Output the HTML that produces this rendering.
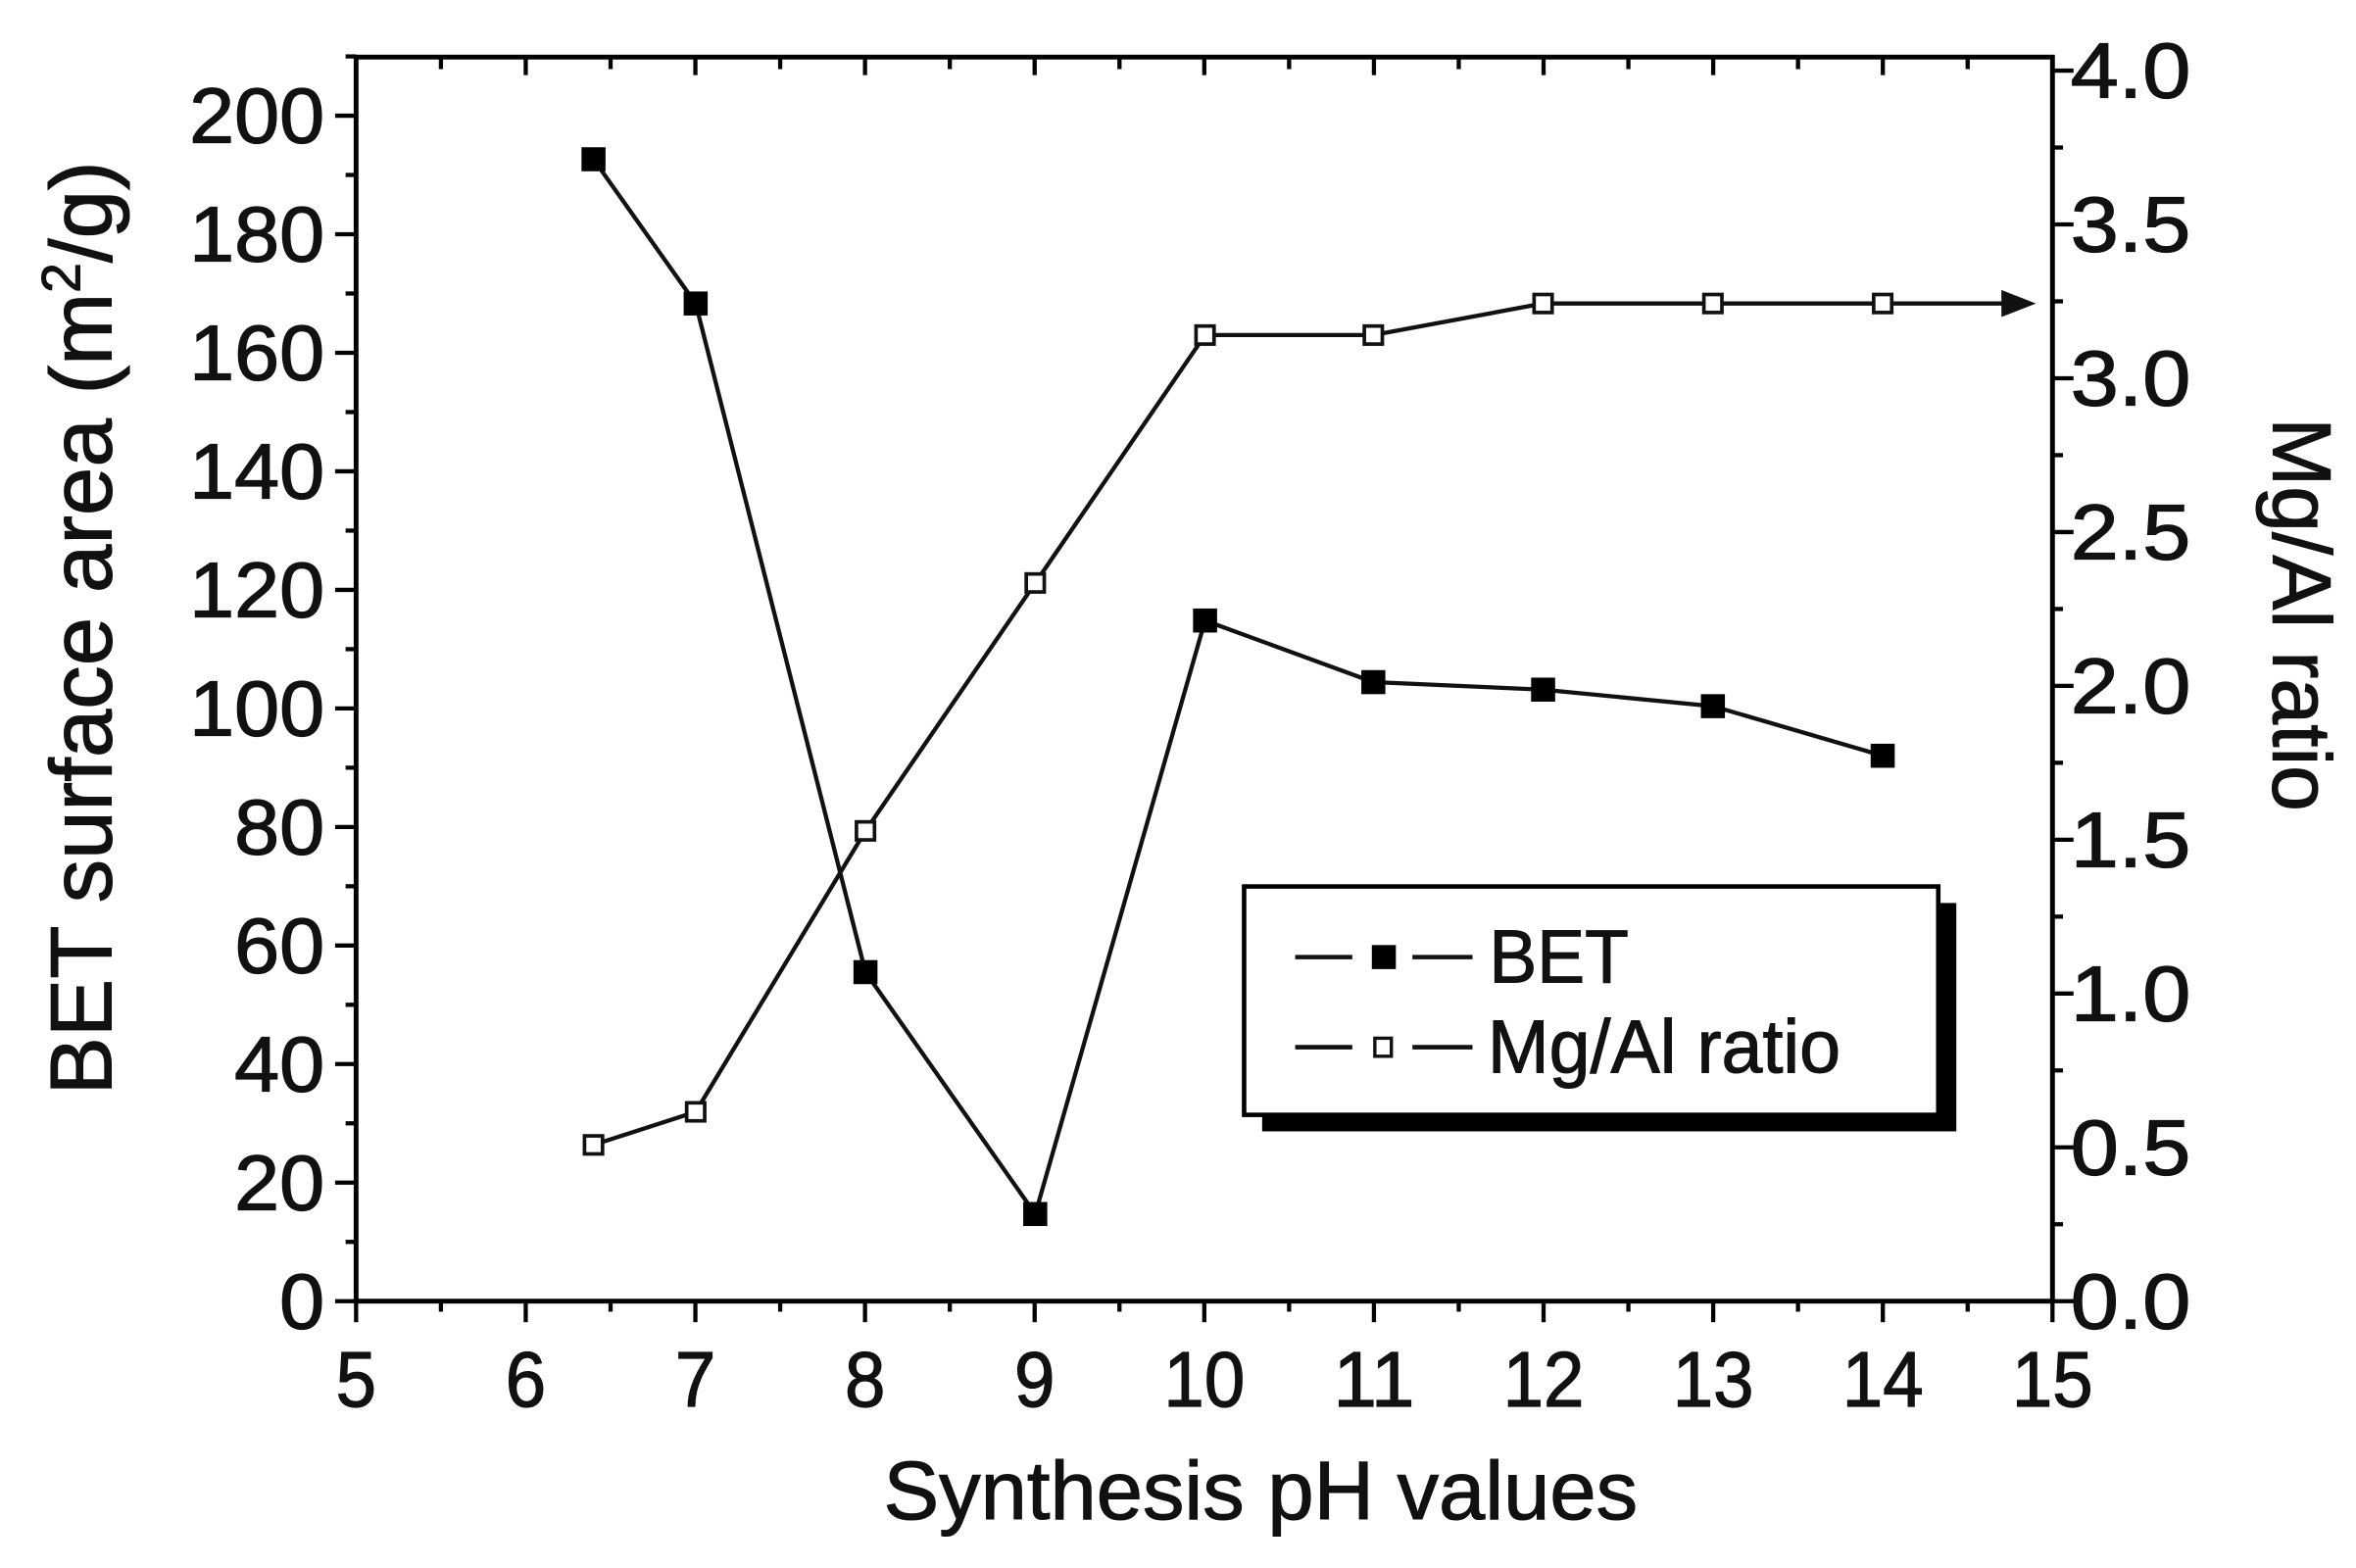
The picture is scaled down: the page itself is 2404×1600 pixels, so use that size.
<!DOCTYPE html>
<html><head><meta charset="utf-8"><style>html,body{margin:0;padding:0;background:#fff}svg{display:block}</style></head>
<body>
<svg width="2404" height="1600" viewBox="0 0 1568 1043.6" preserveAspectRatio="none" xmlns="http://www.w3.org/2000/svg" font-family="Liberation Sans, Arial, sans-serif">
<rect x="0" y="0" width="1568" height="1044" fill="#fff"/>
<g stroke="#000" stroke-width="3.2" fill="none">
<rect x="237" y="38" width="1129" height="828"/>
</g>
<g stroke="#000" stroke-width="2.8" id="ticks"></g>
<g id="labels" font-size="52" fill="#111" stroke="#111" stroke-width="0.8"></g>
<polyline fill="none" stroke="#111" stroke-width="2.8" points="395,106 463,202 576,647 689,808 802,413 914,454 1027,459 1140,470 1253,503"/>
<polyline fill="none" stroke="#111" stroke-width="2.8" points="395,762 463,740 576,553 689,388 802,223 914,223 1027,202 1140,202 1253,202 1340,202"/>
<polygon points="1355,202 1332,193 1332,211" fill="#111"/>
<g fill="#000">
<rect x="387" y="98" width="16" height="16"/><rect x="455" y="194" width="16" height="16"/><rect x="568" y="639" width="16" height="16"/><rect x="681" y="800" width="16" height="16"/><rect x="794" y="405" width="16" height="16"/><rect x="906" y="446" width="16" height="16"/><rect x="1019" y="451" width="16" height="16"/><rect x="1132" y="462" width="16" height="16"/><rect x="1245" y="495" width="16" height="16"/>
</g>
<g fill="#fff" stroke="#111" stroke-width="2.4">
<rect x="389" y="756" width="12" height="12"/><rect x="457" y="734" width="12" height="12"/><rect x="570" y="547" width="12" height="12"/><rect x="683" y="382" width="12" height="12"/><rect x="796" y="217" width="12" height="12"/><rect x="908" y="217" width="12" height="12"/><rect x="1021" y="196" width="12" height="12"/><rect x="1134" y="196" width="12" height="12"/><rect x="1247" y="196" width="12" height="12"/>
</g>
<rect x="840" y="601" width="462" height="152" fill="#000"/>
<rect x="828" y="590" width="462" height="152" fill="#fff" stroke="#000" stroke-width="3"/>
<g stroke="#111" stroke-width="3">
<line x1="862" y1="637" x2="900" y2="637"/><line x1="940" y1="637" x2="980" y2="637"/>
<line x1="862" y1="697" x2="900" y2="697"/><line x1="940" y1="697" x2="980" y2="697"/>
</g>
<rect x="913" y="629" width="16" height="16" fill="#000"/>
<rect x="915" y="691" width="11" height="12" fill="#fff" stroke="#111" stroke-width="2.2"/>
<g fill="#111" stroke="#111" stroke-width="0.7">
<text x="991" y="654" font-size="50" textLength="93" lengthAdjust="spacingAndGlyphs">BET</text>
<text x="990" y="714" font-size="50" textLength="235" lengthAdjust="spacingAndGlyphs">Mg/Al ratio</text>
<text x="839" y="1011" font-size="55" text-anchor="middle" textLength="502" lengthAdjust="spacingAndGlyphs">Synthesis pH values</text>
<text transform="translate(74,418) rotate(-90)" font-size="58" text-anchor="middle">BET surface area (m<tspan font-size="36" dy="-21">2</tspan><tspan dy="21">/g)</tspan></text>
<text transform="translate(1513,409) rotate(90)" font-size="55" text-anchor="middle" textLength="262" lengthAdjust="spacingAndGlyphs">Mg/Al ratio</text>
</g>
<script>
var ns="http://www.w3.org/2000/svg",t=document.getElementById('ticks'),L=document.getElementById('labels');
function ln(a,b,c,d){var e=document.createElementNS(ns,'line');e.setAttribute('x1',a);e.setAttribute('y1',b);e.setAttribute('x2',c);e.setAttribute('y2',d);t.appendChild(e);}
function tx(x,y,s,anc,w){var e=document.createElementNS(ns,'text');e.setAttribute('x',x);e.setAttribute('y',y);e.setAttribute('text-anchor',anc);if(w){e.setAttribute('textLength',w);e.setAttribute('lengthAdjust','spacingAndGlyphs');}e.textContent=s;L.appendChild(e);}
for(var i=0;i<=20;i++){var v=5+i*0.5,x=237+(v-5)*112.9,maj=(i%2==0);
 ln(x,866,x,866+(maj?14:7)); ln(x,38,x,38+(maj?12:8));
 if(maj) tx(x,936,String(v),'middle',String(v).length*27);}
for(var v=0;v<=210;v+=10){var y=866-v*3.945,maj=(v%20==0);ln(237,y,237-(maj?14:7),y);if(maj)tx(216,y+18,String(v),'end',String(v).length*30);}
for(var k=0;k<=16;k++){var r=k*0.25,y=866-r*204.75,maj=(k%2==0);ln(1366,y,1366+(maj?14:7),y);if(maj)tx(1378,y+18,r.toFixed(1),'start',80);}
</script>
</svg>
</body></html>
